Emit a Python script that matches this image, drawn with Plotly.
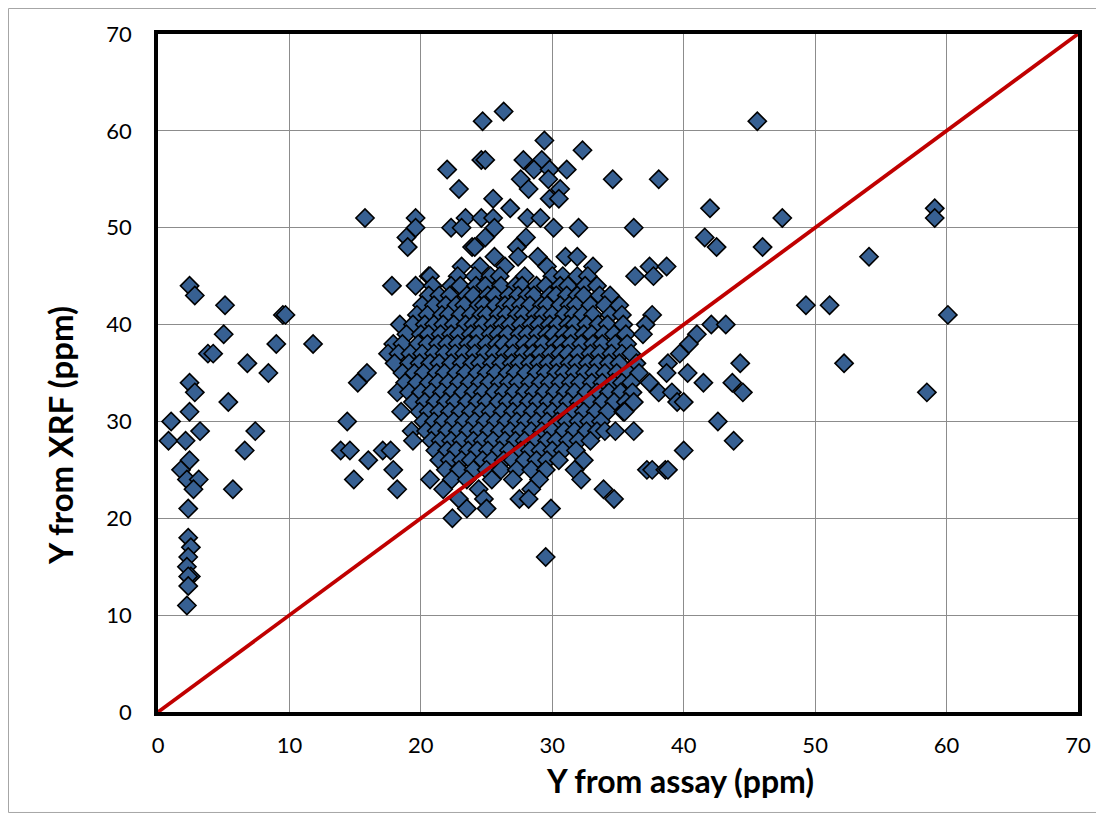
import plotly.graph_objects as go

# ---- data: low-assay group (x = assay ppm, y = XRF ppm) ----
left_assay = [0.8, 1.0, 1.75, 2.1, 2.2, 2.3, 2.4, 2.4, 2.4, 2.8, 2.4, 2.8, 3.2, 3.1, 2.7,
              2.3, 2.5, 2.3, 2.2, 2.5, 2.3, 2.3, 2.2, 3.8, 4.2, 5.0, 5.1, 5.35, 5.7, 6.6,
              6.8, 7.4, 8.4, 9.0, 9.5, 9.7, 11.8]
left_xrf = [28, 30, 25, 28, 24, 21, 26, 31, 34, 33, 44, 43, 29, 24, 23,
            18, 17, 16, 15, 14, 14, 13, 11, 37, 37, 39, 42, 32, 23, 27,
            36, 29, 35, 38, 41, 41, 38]

# ---- data: main group, XRF levels with the assay values found at each level ----
xrf_levels = [62, 61, 59, 58, 57, 56, 55, 54, 53, 52, 51, 50, 49, 48, 47, 46, 45, 44,
              43, 42, 41, 40, 39, 38, 37, 36, 35, 34, 33, 32, 31, 30, 29, 28, 27, 26,
              25, 24, 23, 22, 21, 20, 16]
assay_rows = [
    [26.3],
    [24.7, 45.6],
    [29.4],
    [32.3],
    [24.6, 24.9, 27.8, 29.2],
    [22.0, 28.6, 29.8, 31.1],
    [27.6, 29.7, 34.6, 38.1],
    [22.9, 28.2, 30.6],
    [25.5, 29.8, 30.5],
    [26.8, 42.0, 59.1],
    [15.75, 19.6, 23.4, 24.6, 25.5, 28.1, 29.1, 47.5, 59.1],
    [19.6, 22.3, 23.1, 25.6, 30.1, 32.0, 36.2],
    [18.9, 24.9, 28.0, 41.6],
    [19.0, 23.9, 24.1, 27.3, 42.5, 46.0],
    [25.6, 27.4, 28.9, 31.0, 31.9, 54.1],
    [23.1, 24.5, 26.4, 29.6, 33.1, 37.4, 38.7],
    [20.6, 20.7, 22.8, 24.1, 25.3, 26.0, 27.9, 30.0, 30.8, 31.9, 32.7, 36.3, 37.7],
    [17.8, 19.6, 20.9, 22.3, 23.0, 24.2, 24.9, 26.1, 27.2, 27.7, 28.8, 29.5, 30.6, 31.2, 32.5, 33.4],
    [20.6, 21.4, 22.2, 23.5, 24.0, 25.1, 25.6, 26.7, 27.4, 28.1, 28.6, 29.8, 30.3, 31.1, 31.9, 32.4,
     33.6, 34.4],
    [20.1, 21.0, 21.9, 22.7, 23.3, 24.4, 24.8, 25.7, 26.4, 26.9, 27.6, 28.3, 29.2, 29.6, 30.6, 31.3,
     31.8, 32.9, 34.0, 35.1, 49.3, 51.1],
    [19.7, 20.5, 21.6, 22.1, 23.0, 23.8, 24.6, 25.0, 25.9, 26.5, 27.3, 27.8, 28.7, 29.3, 30.0, 30.9,
     31.6, 32.3, 33.1, 34.4, 35.3, 37.6, 60.1],
    [18.4, 19.4, 20.3, 21.0, 21.7, 22.5, 23.4, 24.0, 24.7, 25.5, 26.2, 26.8, 27.6, 28.4, 29.0, 29.8,
     30.4, 31.2, 31.7, 32.6, 33.5, 34.2, 35.4, 37.1, 42.1, 43.2],
    [18.9, 20.0, 20.6, 21.5, 22.3, 22.9, 23.8, 24.4, 25.3, 25.9, 26.6, 27.5, 28.1, 28.9, 29.6, 30.1,
     30.9, 31.5, 32.4, 33.0, 33.9, 34.7, 35.6, 36.9, 41.0],
    [17.9, 18.6, 19.8, 20.5, 21.3, 22.0, 22.8, 23.6, 24.2, 25.0, 25.8, 26.3, 27.1, 27.9, 28.6, 29.3,
     30.2, 30.7, 31.4, 32.2, 33.1, 33.8, 34.8, 35.7, 40.4],
    [17.5, 18.3, 19.2, 20.1, 21.0, 21.8, 22.6, 23.3, 24.1, 24.9, 25.6, 26.4, 27.0, 27.8, 28.5, 29.1,
     29.9, 30.6, 31.2, 32.0, 32.9, 33.6, 34.5, 35.3, 36.0, 39.7],
    [18.0, 19.1, 19.9, 20.7, 21.4, 22.3, 23.1, 23.9, 24.5, 25.4, 26.1, 26.9, 27.5, 28.3, 29.0, 29.7,
     30.5, 31.3, 31.9, 32.7, 33.5, 34.3, 35.1, 36.4, 38.8, 44.3, 52.2],
    [15.9, 18.6, 19.5, 20.2, 21.2, 21.8, 22.7, 23.4, 24.3, 25.0, 25.7, 26.6, 27.2, 28.0, 28.8, 29.5,
     30.3, 30.9, 31.7, 32.5, 33.2, 34.0, 34.9, 35.8, 36.6, 38.7, 40.3],
    [15.2, 18.8, 19.7, 20.6, 21.3, 22.1, 22.9, 23.7, 24.5, 25.2, 26.0, 26.7, 27.4, 28.3, 29.1, 29.8,
     30.6, 31.4, 32.1, 33.0, 33.8, 34.6, 35.3, 36.0, 37.4, 41.5, 43.7],
    [18.2, 19.1, 20.0, 20.8, 21.6, 22.4, 23.2, 24.0, 24.7, 25.6, 26.3, 27.1, 27.9, 28.6, 29.4, 30.2,
     31.0, 31.7, 32.6, 33.4, 34.3, 35.2, 36.1, 38.1, 39.1, 44.5, 58.5],
    [19.4, 20.3, 21.1, 21.9, 22.6, 23.5, 24.3, 25.0, 25.9, 26.6, 27.4, 28.2, 28.9, 29.7, 30.5, 31.2,
     32.0, 32.9, 33.8, 34.7, 35.6, 36.2, 39.5, 40.0],
    [18.5, 19.9, 20.6, 21.4, 22.2, 23.0, 23.8, 24.6, 25.3, 26.2, 27.0, 27.7, 28.5, 29.3, 30.0, 30.8,
     31.6, 32.4, 33.3, 34.2, 35.4, 35.5],
    [14.4, 20.2, 21.0, 21.7, 22.5, 23.3, 24.1, 24.9, 25.7, 26.5, 27.3, 28.0, 28.8, 29.6, 30.4, 31.1,
     32.0, 32.8, 33.7, 42.6],
    [19.3, 20.4, 21.2, 22.0, 22.8, 23.6, 24.4, 25.2, 26.0, 26.8, 27.6, 28.4, 29.2, 30.0, 30.9, 31.7,
     32.6, 33.4, 34.0, 34.8, 36.2],
    [19.4, 20.8, 21.5, 22.3, 23.1, 24.0, 24.7, 25.5, 26.4, 27.2, 27.9, 28.7, 29.6, 30.3, 31.2, 32.0,
     32.9, 43.8],
    [13.9, 14.6, 17.1, 17.7, 21.1, 22.0, 22.7, 23.6, 24.3, 25.1, 26.0, 26.7, 27.6, 28.3, 29.1, 30.0,
     30.8, 31.8, 40.0],
    [16.0, 21.4, 22.2, 23.1, 23.8, 24.7, 25.4, 26.3, 27.0, 27.9, 28.8, 29.6, 30.5, 32.4],
    [17.9, 21.9, 22.9, 24.0, 25.0, 26.1, 27.3, 28.4, 29.5, 31.7, 37.2, 37.6, 38.6, 38.8],
    [14.9, 20.7, 22.35, 23.5, 25.4, 27.0, 29.0, 32.2],
    [18.2, 21.7, 24.4, 28.4, 33.9],
    [22.9, 24.8, 27.5, 28.2, 34.7],
    [23.5, 25.0, 29.9],
    [22.4],
    [29.5],
]

line_x = [0, 70]
line_y = [0, 70]

# build point lists
xs = list(left_assay)
ys = list(left_xrf)
for lvl, row in zip(xrf_levels, assay_rows):
    for v in row:
        xs.append(v)
        ys.append(lvl)

fig = go.Figure()
fig.add_trace(go.Scatter(
    x=xs, y=ys, mode="markers",
    marker=dict(symbol="diamond", size=14, color="#376092",
                line=dict(color="black", width=1.6)),
    showlegend=False, hoverinfo="x+y"))
fig.add_trace(go.Scatter(
    x=line_x, y=line_y, mode="lines",
    line=dict(color="#C00000", width=3.8), showlegend=False))

axis_common = dict(range=[0, 70], dtick=10, showgrid=True, gridcolor="#8C8C8C", gridwidth=1.3,
                   zeroline=False, showline=True, linecolor="black", linewidth=3.5, mirror=True,
                   ticks="", tickfont=dict(family="Lato", size=22, color="black"))

# the page body has an 8px margin, so the figure is sized/offset to compensate
fig.update_layout(
    width=1096, height=805,
    margin=dict(l=150, r=26, t=26, b=101),
    paper_bgcolor="white", plot_bgcolor="white",
    xaxis=dict(**axis_common, ticklabelstandoff=11),
    yaxis=dict(**axis_common, ticklabelstandoff=18),
    annotations=[
        dict(text="<b>Y from assay (ppm)</b>", xref="paper", yref="paper",
             x=0.5674, y=-0.1012, xanchor="center", yanchor="middle", showarrow=False,
             font=dict(family="Lato", size=32, color="black")),
        dict(text="<b>Y from XRF (ppm)</b>", xref="paper", yref="paper",
             x=-0.1065, y=0.407, xanchor="center", yanchor="middle", showarrow=False,
             textangle=-90, font=dict(family="Lato", size=33, color="black")),
    ],
    shapes=[dict(type="rect", xref="paper", yref="paper",
                 x0=-0.1625, x1=1.0277, y0=-0.1482, y1=1.0376,
                 line=dict(color="#A6A6A6", width=1), layer="below")],
)

fig.write_html("out.html")
